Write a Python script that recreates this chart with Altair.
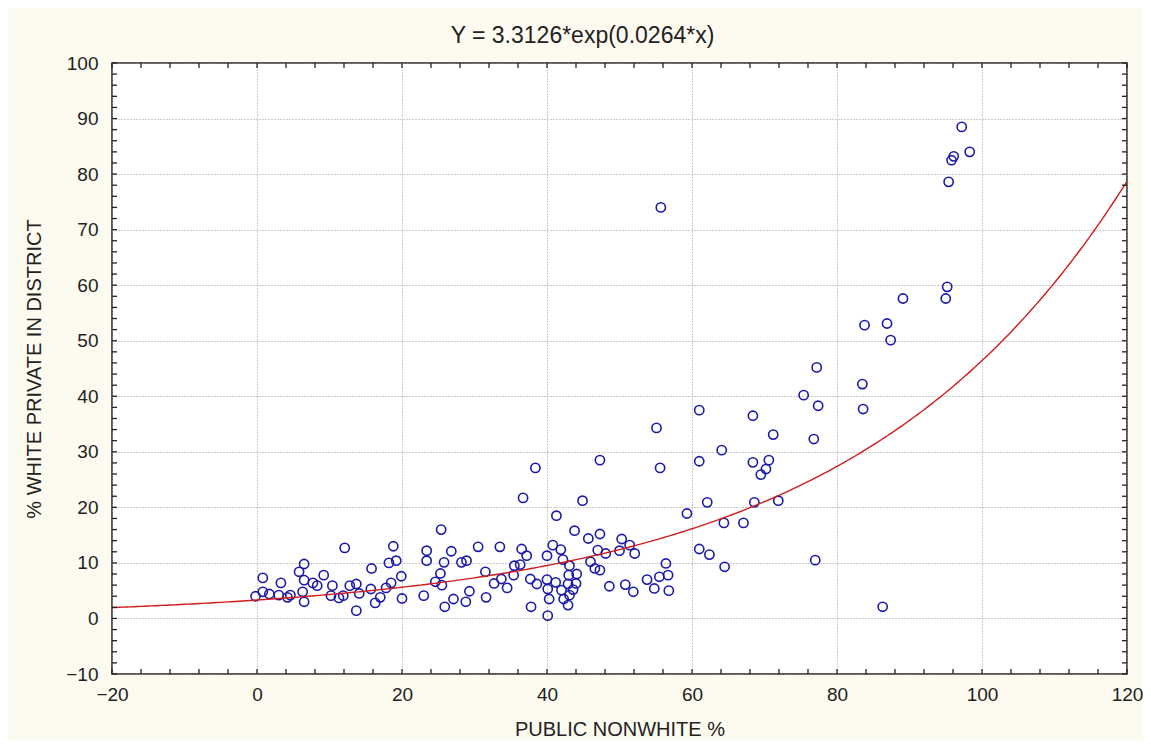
import altair as alt
import pandas as pd

# ---- data ----
x_vals = [-0.2, 0.8, 0.8, 1.7, 3.3, 3.0, 4.2, 4.6, 5.8, 6.5, 6.5, 6.3, 6.5, 7.7, 8.3, 9.2,
          10.4, 10.2, 11.3, 11.9, 12.1, 12.8, 13.7, 13.7, 14.1, 15.8, 15.7, 16.3, 17.0, 17.8,
          18.8, 18.2, 19.2, 18.5, 19.9, 20.0,
          23.0, 23.4, 23.4, 25.4, 24.6, 25.3, 25.8, 25.5, 25.9, 26.8, 27.1, 28.2, 28.9, 28.8,
          29.3, 30.5, 31.5, 31.6, 32.7, 33.5, 33.7, 34.5, 35.4, 35.5, 36.3, 36.5, 37.2, 36.7,
          38.4, 37.7, 37.8, 38.6,
          40.0, 40.0, 40.1, 40.1, 40.3, 40.8, 41.3, 41.2, 41.9, 42.2, 42.0, 42.3, 42.9, 43.1,
          43.0, 43.1, 42.9, 43.8, 44.1, 44.0, 43.6, 44.9, 45.7, 46.0, 47.3, 47.3, 47.0, 46.6,
          47.3, 48.1, 48.6, 50.3, 50.0, 50.8, 51.9, 52.1, 51.4, 53.8, 54.8, 55.5, 56.4, 56.7,
          56.8, 55.1, 55.6, 55.7, 59.3, 61.0, 61.0, 62.1, 61.0, 62.4, 64.1, 64.4, 64.5, 67.1,
          68.6, 68.4, 68.4, 71.2, 70.6, 70.2, 69.5, 71.9, 75.4, 77.2, 77.4, 76.8, 77.0, 83.5,
          83.6, 86.3, 87.4, 83.8, 86.9, 89.1, 95.0, 95.2, 95.4, 95.8, 96.1, 98.3, 97.2]
y_vals = [4.0, 7.3, 4.8, 4.4, 6.4, 4.2, 3.8, 4.2, 8.4, 9.8, 6.9, 4.8, 3.0, 6.4, 5.9, 7.8,
          5.9, 4.1, 3.7, 4.1, 12.7, 5.9, 6.2, 1.4, 4.5, 9.0, 5.3, 2.8, 3.8, 5.5,
          13.0, 10.0, 10.4, 6.4, 7.6, 3.6,
          4.1, 12.2, 10.4, 16.0, 6.6, 8.1, 10.1, 6.0, 2.1, 12.1, 3.5, 10.1, 10.4, 3.0,
          4.9, 12.9, 8.4, 3.8, 6.3, 12.9, 7.1, 5.5, 7.8, 9.5, 9.7, 12.5, 11.3, 21.7,
          27.1, 7.1, 2.1, 6.2,
          11.3, 7.0, 5.3, 0.5, 3.5, 13.2, 18.5, 6.5, 12.4, 10.6, 5.1, 3.5, 2.4, 9.5,
          7.8, 4.2, 6.2, 15.8, 8.0, 6.3, 5.2, 21.2, 14.4, 10.2, 28.5, 15.2, 12.3, 9.0,
          8.7, 11.7, 5.8, 14.3, 12.2, 6.1, 4.8, 11.7, 13.2, 7.0, 5.4, 7.5, 9.9, 7.8,
          5.0, 34.3, 27.1, 74.0, 18.9, 37.5, 28.3, 20.9, 12.5, 11.5, 30.3, 17.2, 9.3, 17.2,
          20.9, 36.5, 28.1, 33.1, 28.5, 26.9, 25.9, 21.2, 40.2, 45.2, 38.3, 32.3, 10.5, 42.2,
          37.7, 2.1, 50.1, 52.8, 53.1, 57.6, 57.6, 59.7, 78.6, 82.5, 83.2, 84.0, 88.5]

fit_a = 3.3126
fit_b = 0.0264
title_text = "Y = 3.3126*exp(0.0264*x)"
x_title = "PUBLIC NONWHITE %"
y_title = "% WHITE PRIVATE IN DISTRICT"

x_major = [-20, 0, 20, 40, 60, 80, 100, 120]
y_major = [-10, 0, 10, 20, 30, 40, 50, 60, 70, 80, 90, 100]
x_minor = list(range(-20, 121, 4))
y_minor = list(range(-10, 101, 2))

df = pd.DataFrame({"x": x_vals, "y": y_vals})

W, H = 1015, 611
FONT = "Liberation Sans"
xscale = alt.Scale(domain=[-20, 120], nice=False, zero=False)
yscale = alt.Scale(domain=[-10, 100], nice=False, zero=False)

xaxis = alt.Axis(values=x_major, title=x_title, labelFlush=False, tickSize=0,
                 grid=True, gridDash=[1, 2], gridColor="#9a9a9a", gridWidth=1,
                 domain=False, labelFont=FONT, labelFontSize=19, labelColor="#222",
                 labelPadding=11, titleFont=FONT, titleFontSize=20, titleFontWeight="normal",
                 titleColor="#222", titleBaseline="middle", titleY=55)
yaxis = alt.Axis(values=y_major, title=y_title, tickSize=0, grid=True, gridDash=[1, 2],
                 gridColor="#9a9a9a", gridWidth=1, domain=False, labelFont=FONT,
                 labelFontSize=19, labelColor="#222", labelPadding=14, labelFlush=False,
                 titleFont=FONT, titleFontSize=20, titleFontWeight="normal", titleColor="#222",
                 titleBaseline="middle", titleX=-78)

points = alt.Chart(df).mark_point(shape="circle", filled=False, color="#1a1aa8",
                                  strokeWidth=1.6, size=85, opacity=1).encode(
    x=alt.X("x:Q", scale=xscale, axis=xaxis),
    y=alt.Y("y:Q", scale=yscale, axis=yaxis),
)

curve = alt.Chart(alt.sequence(-20, 120.5, 0.5, as_="xs")).transform_calculate(
    ys=f"{fit_a}*exp({fit_b}*datum.xs)"
).mark_line(color="#d01c1c", strokeWidth=1.4).encode(
    x=alt.X("xs:Q", scale=xscale, axis=xaxis),
    y=alt.Y("ys:Q", scale=yscale, axis=yaxis),
)

ydf = pd.DataFrame({"v": y_minor})
xdf = pd.DataFrame({"v": x_minor})
TK = 5
tick_style = dict(color="#222", strokeWidth=1.3)
yl = alt.Chart(ydf).mark_rule(**tick_style).encode(
    y=alt.Y("v:Q", scale=yscale, axis=yaxis), x=alt.value(0), x2=alt.value(TK))
yr = alt.Chart(ydf).mark_rule(**tick_style).encode(
    y=alt.Y("v:Q", scale=yscale, axis=yaxis), x=alt.value(W - TK), x2=alt.value(W))
xb = alt.Chart(xdf).mark_rule(**tick_style).encode(
    x=alt.X("v:Q", scale=xscale, axis=xaxis), y=alt.value(H - TK), y2=alt.value(H))
xt = alt.Chart(xdf).mark_rule(**tick_style).encode(
    x=alt.X("v:Q", scale=xscale, axis=xaxis), y=alt.value(0), y2=alt.value(TK))

chart = alt.layer(points, curve, yl, yr, xb, xt).properties(
    width=W, height=H,
    title=alt.TitleParams(title_text, font=FONT, fontSize=23, fontWeight="normal",
                          color="#222", anchor="middle", offset=6, dx=-37),
    autosize=alt.AutoSizeParams(type="none"),
    padding={"left": 104, "top": 55, "right": 16, "bottom": 66},
).configure(background="#fdfaf0").configure_view(
    fill="white", stroke="#222", strokeWidth=1.5
)

chart.save("out.html", embed_options={"renderer": "svg", "actions": False})
